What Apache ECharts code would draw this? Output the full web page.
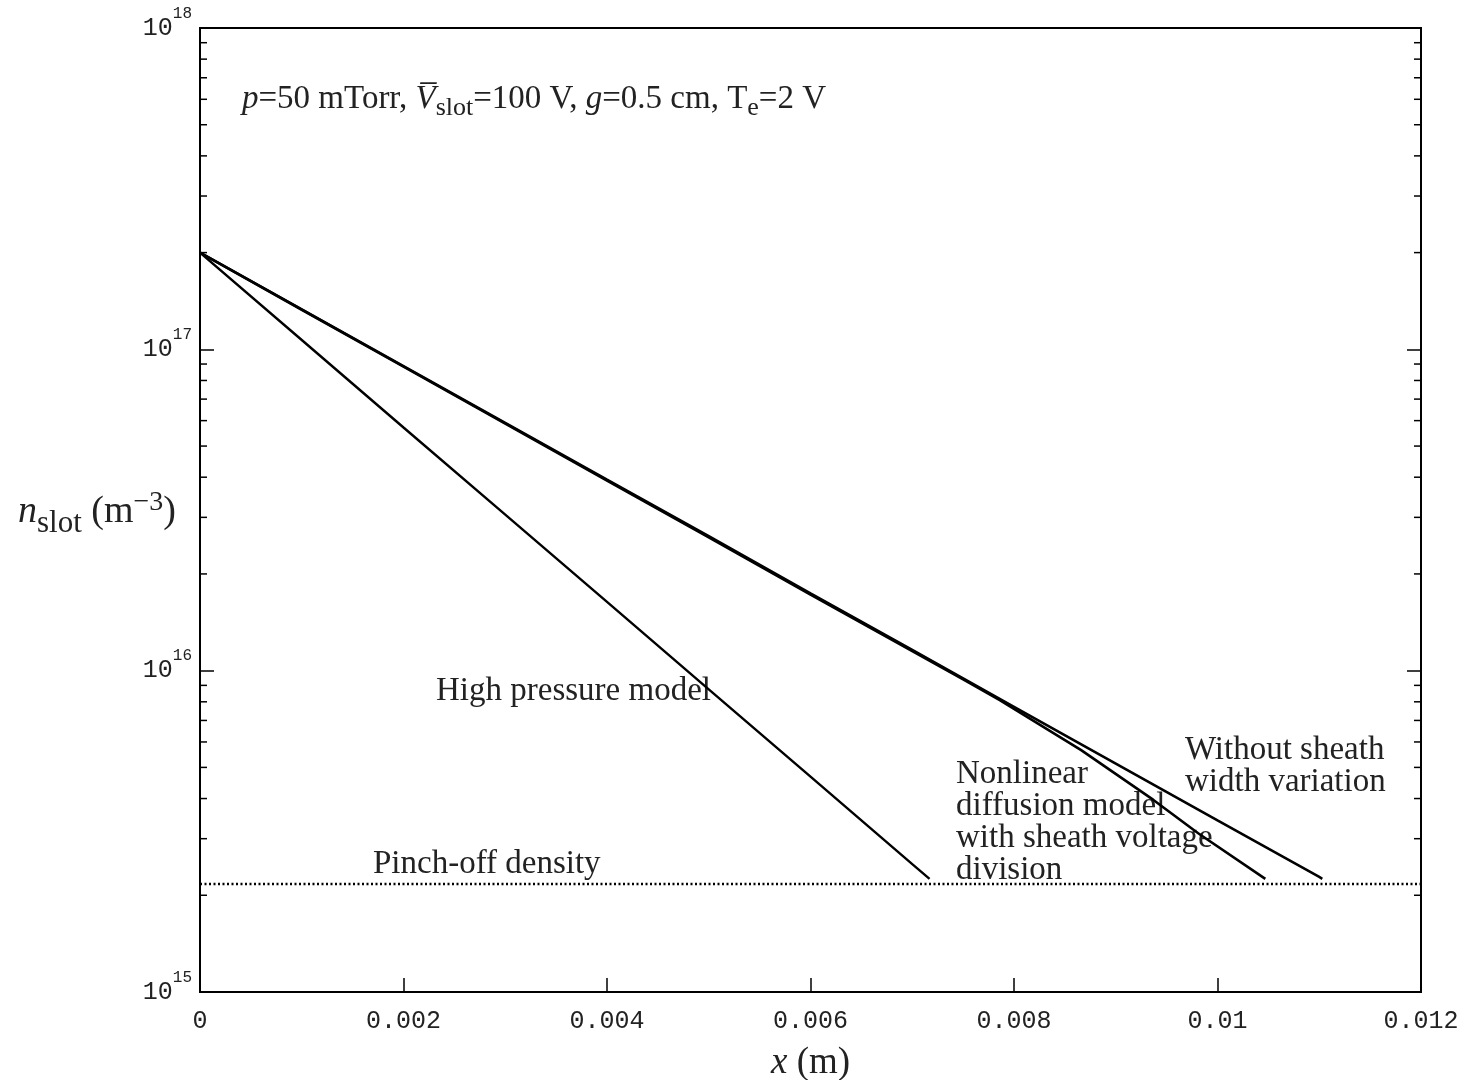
<!DOCTYPE html>
<html>
<head>
<meta charset="utf-8">
<script src="https://cdn.jsdelivr.net/npm/echarts@6/dist/echarts.min.js"></script>
<style>html,body{margin:0;padding:0;background:#fff;overflow:hidden}#c{width:1480px;height:1080px}</style>
</head>
<body>
<div id="c"></div>
<script>
// ---- data ----
const X_MIN = 0, X_MAX = 0.012, X_STEP = 0.002;
const Y_MIN = 1e15, Y_MAX = 1e18;
const pinchOffDensity = 2.17e15;

const highPressureX = [0, 0.001, 0.002, 0.003, 0.004, 0.005, 0.006, 0.007, 0.00717];
const highPressureY = [2.0e17, 1.069e17, 5.71e16, 3.06e16, 1.637e16, 8.75e15, 4.68e15, 2.50e15, 2.25e15];

const withoutSheathX = [0, 0.001, 0.002, 0.003, 0.004, 0.005, 0.006, 0.007, 0.008, 0.009, 0.010, 0.011, 0.01103];
const withoutSheathY = [2.0e17, 1.331e17, 8.87e16, 5.90e16, 3.93e16, 2.62e16, 1.74e16, 1.16e16, 7.72e15, 5.14e15, 3.42e15, 2.28e15, 2.25e15];

const nonlinearX = [0, 0.001, 0.002, 0.003, 0.004, 0.005, 0.006, 0.007, 0.0075, 0.00786, 0.00866, 0.00937, 0.00981, 0.01047];
const nonlinearY = [2.0e17, 1.328e17, 8.84e16, 5.87e16, 3.90e16, 2.60e16, 1.725e16, 1.15e16, 9.40e15, 8.10e15, 5.66e15, 3.96e15, 3.12e15, 2.25e15];

const minorTickValues = [2e15,3e15,4e15,5e15,6e15,7e15,8e15,9e15,
                         2e16,3e16,4e16,5e16,6e16,7e16,8e16,9e16,
                         2e17,3e17,4e17,5e17,6e17,7e17,8e17,9e17];

const pairs = (xs, ys) => xs.map((x, i) => [x, ys[i]]);

const SERIF = '"Liberation Serif", "Times New Roman", serif';
const MONO = '"Liberation Mono", "DejaVu Sans Mono", monospace';
const TXT = '#222';

const chart = echarts.init(document.getElementById('c'), null, {renderer: 'canvas', width: 1480, height: 1080});

const lineSeries = (name, data, w) => ({
  name, type: 'line', data, showSymbol: false, symbol: 'none', smooth: false,
  lineStyle: {color: '#000', width: w}, z: 3, silent: true, animation: false
});

const yLabel = {
  show: true, margin: 8, color: TXT,
  formatter: v => '{b|10}{s|' + Math.round(Math.log10(v)) + '}',
  rich: {
    b: {fontFamily: MONO, fontSize: 25, color: TXT, padding: [10, 0, 10, 0]},
    s: {fontFamily: MONO, fontSize: 16, color: TXT, verticalAlign: 'top'}
  }
};

const option = {
  backgroundColor: '#fff',
  animation: false,
  grid: {left: 200, right: 59, top: 28, bottom: 88, show: true, borderColor: '#000', borderWidth: 2,
         backgroundColor: 'transparent', containLabel: false, outerBoundsMode: 'none'},
  xAxis: {
    type: 'value', min: X_MIN, max: X_MAX, interval: X_STEP,
    axisLine: {show: true, onZero: false, lineStyle: {color: '#000', width: 2}},
    axisTick: {show: true, inside: true, length: 14, lineStyle: {color: '#000', width: 1.5}},
    splitLine: {show: false},
    axisLabel: {margin: 17, fontFamily: MONO, fontSize: 25, color: TXT,
      formatter: v => String(+v.toFixed(4))},
    name: '{i|x} (m)', nameLocation: 'middle', nameGap: 53,
    nameTextStyle: {fontFamily: SERIF, fontSize: 37, color: TXT,
      rich: {i: {fontFamily: SERIF, fontSize: 37, fontStyle: 'italic', color: TXT}}}
  },
  yAxis: [{
    type: 'log', logBase: 10, min: Y_MIN, max: Y_MAX, splitNumber: 3,
    axisLine: {show: true, onZero: false, lineStyle: {color: '#000', width: 2}},
    axisTick: {show: true, inside: true, length: 14, lineStyle: {color: '#000', width: 1.5}},
    splitLine: {show: false},
    axisLabel: yLabel
  }, {
    type: 'log', logBase: 10, min: Y_MIN, max: Y_MAX, splitNumber: 3, position: 'right',
    axisLine: {show: true, onZero: false, lineStyle: {color: '#000', width: 2}},
    axisTick: {show: true, inside: true, length: 14, lineStyle: {color: '#000', width: 1.5}},
    splitLine: {show: false},
    axisLabel: {show: false}
  }],
  series: [
    lineSeries('High pressure model', pairs(highPressureX, highPressureY), 2.4),
    lineSeries('Without sheath width variation', pairs(withoutSheathX, withoutSheathY), 2.6),
    lineSeries('Nonlinear diffusion model', pairs(nonlinearX, nonlinearY), 2.6),
    {
      name: 'Pinch-off density', type: 'line', showSymbol: false, symbol: 'none',
      data: [[X_MIN, pinchOffDensity], [X_MAX, pinchOffDensity]],
      lineStyle: {color: '#000', width: 2.5, type: [2, 2.5]}, z: 2, silent: true
    },
    {
      type: 'custom', silent: true, z: 4,
      data: minorTickValues.map(v => [X_MIN, v]),
      encode: {x: 0, y: 1},
      renderItem: (params, api) => {
        const v = api.value(1);
        const l = api.coord([X_MIN, v]);
        const r = api.coord([X_MAX, v]);
        const st = {stroke: '#000', lineWidth: 1.5};
        return {type: 'group', children: [
          {type: 'line', shape: {x1: l[0], y1: l[1], x2: l[0] + 7, y2: l[1]}, style: st},
          {type: 'line', shape: {x1: r[0] - 7, y1: r[1], x2: r[0], y2: r[1]}, style: st}
        ]};
      }
    }
  ],
  graphic: [
    { // y-axis title
      type: 'text', x: 18, y: 520,
      style: {
        text: '{n|n}{sub|slot}{r| (m}{sup|\u22123}{r|)}',
        fill: TXT, textAlign: 'left', textVerticalAlign: 'middle',
        rich: {
          n: {fontFamily: SERIF, fontSize: 38, fontStyle: 'italic', fill: TXT, lineHeight: 38, verticalAlign: 'bottom', padding: [0,0,8,0]},
          r: {fontFamily: SERIF, fontSize: 38, fill: TXT, lineHeight: 38, verticalAlign: 'bottom', padding: [0,0,8,0]},
          sub: {fontFamily: SERIF, fontSize: 31, fill: TXT, lineHeight: 31, verticalAlign: 'bottom', padding: [0,0,0,0]},
          sup: {fontFamily: SERIF, fontSize: 28, fill: TXT, lineHeight: 28, verticalAlign: 'bottom', padding: [0,0,22,0]}
        }
      }
    },
    { // parameters annotation
      type: 'text', x: 242, y: 105,
      style: {
        text: '{i|p}{r|=50 mTorr, }{i|V\u0305}{s|slot}{r|=100 V, }{i|g}{r|=0.5 cm, T}{s|e}{r|=2 V}',
        fill: TXT, textAlign: 'left', textVerticalAlign: 'middle',
        rich: {
          i: {fontFamily: SERIF, fontSize: 33, fontStyle: 'italic', fill: TXT, lineHeight: 33, verticalAlign: 'bottom', padding: [0,0,6,0]},
          r: {fontFamily: SERIF, fontSize: 33, fill: TXT, lineHeight: 33, verticalAlign: 'bottom', padding: [0,0,6,0]},
          s: {fontFamily: SERIF, fontSize: 26, fill: TXT, lineHeight: 26, verticalAlign: 'bottom', padding: [0,0,0,0]}
        }
      }
    },
    {type: 'text', x: 436, y: 691, style: {text: 'High pressure model', font: '33px ' + SERIF, fill: TXT, textVerticalAlign: 'middle'}},
    {type: 'text', x: 373, y: 864, style: {text: 'Pinch-off density', font: '33px ' + SERIF, fill: TXT, textVerticalAlign: 'middle'}},
    {type: 'text', x: 956, y: 758, style: {text: 'Nonlinear\ndiffusion model\nwith sheath voltage\ndivision', font: '33px ' + SERIF, lineHeight: 32, fill: TXT, textVerticalAlign: 'top'}},
    {type: 'text', x: 1185, y: 734, style: {text: 'Without sheath\nwidth variation', font: '33px ' + SERIF, lineHeight: 32, fill: TXT, textVerticalAlign: 'top'}}
  ]
};
chart.setOption(option);
</script>
</body>
</html>
